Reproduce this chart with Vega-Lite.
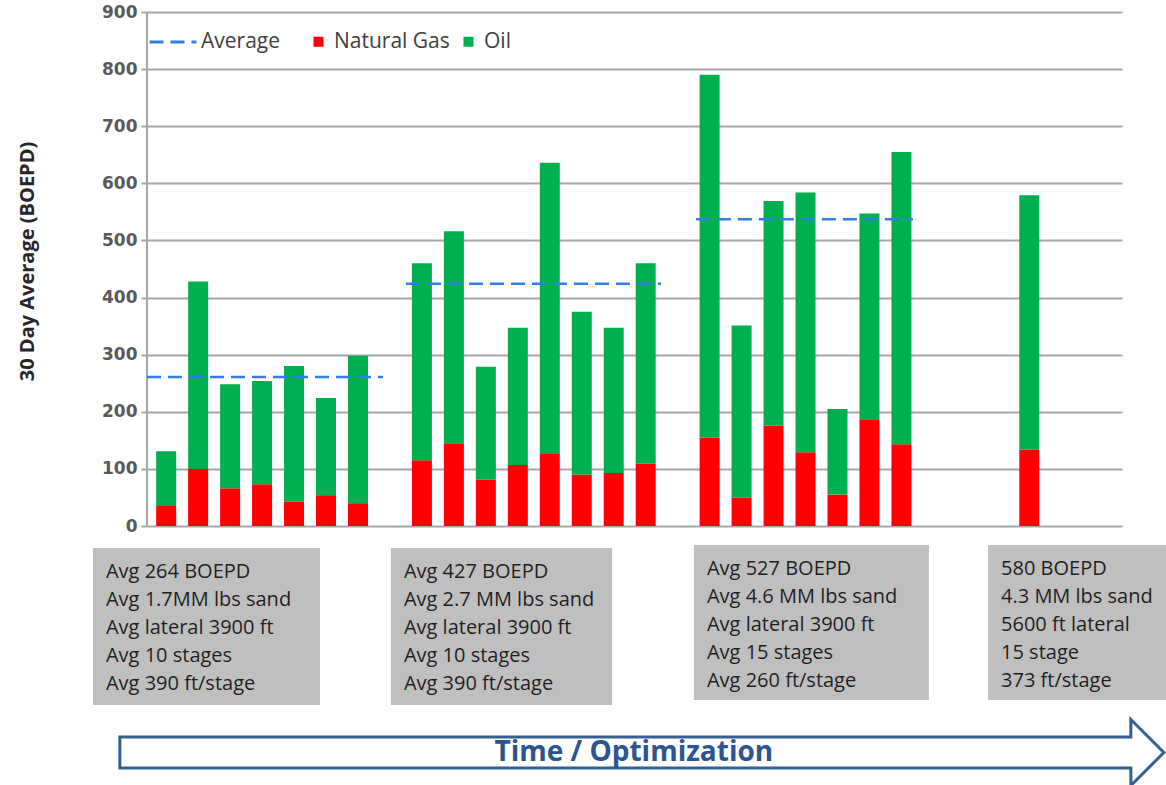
{
  "$schema": "https://vega.github.io/schema/vega-lite/v6.json",
  "width": 975,
  "height": 773,
  "autosize": {"type": "none"},
  "padding": {"left": 147, "top": 12, "right": 44, "bottom": 0},
  "background": "white",
  "config": {"view": {"stroke": null}, "font": "Open Sans"},
  "datasets": {
    "wells": [
      {"well": 1, "Natural Gas": 35, "Oil": 96},
      {"well": 2, "Natural Gas": 100, "Oil": 328},
      {"well": 3, "Natural Gas": 66, "Oil": 182},
      {"well": 4, "Natural Gas": 73, "Oil": 181},
      {"well": 5, "Natural Gas": 43, "Oil": 237},
      {"well": 6, "Natural Gas": 54, "Oil": 170},
      {"well": 7, "Natural Gas": 40, "Oil": 258},
      {"well": 9, "Natural Gas": 115, "Oil": 345},
      {"well": 10, "Natural Gas": 145, "Oil": 371},
      {"well": 11, "Natural Gas": 81, "Oil": 198},
      {"well": 12, "Natural Gas": 107, "Oil": 240},
      {"well": 13, "Natural Gas": 126, "Oil": 510},
      {"well": 14, "Natural Gas": 90, "Oil": 285},
      {"well": 15, "Natural Gas": 93, "Oil": 254},
      {"well": 16, "Natural Gas": 109, "Oil": 351},
      {"well": 18, "Natural Gas": 155, "Oil": 635},
      {"well": 19, "Natural Gas": 50, "Oil": 301},
      {"well": 20, "Natural Gas": 176, "Oil": 393},
      {"well": 21, "Natural Gas": 129, "Oil": 455},
      {"well": 22, "Natural Gas": 55, "Oil": 150},
      {"well": 23, "Natural Gas": 187, "Oil": 360},
      {"well": 24, "Natural Gas": 143, "Oil": 512},
      {"well": 28, "Natural Gas": 134, "Oil": 445}
    ],
    "averages": [
      {"from": 0.4, "to": 7.78, "avg": 261},
      {"from": 8.5, "to": 16.48, "avg": 424},
      {"from": 17.57, "to": 24.36, "avg": 537}
    ],
    "boxes": [
      {"x1": -1.29, "x2": 5.81, "top": -38.5, "bottom": -313.4, "label": "Avg 264 BOEPD\nAvg 1.7MM lbs sand\nAvg lateral 3900 ft\nAvg 10 stages\nAvg 390 ft/stage"},
      {"x1": 8.03, "x2": 14.95, "top": -38.5, "bottom": -313.4, "label": "Avg 427 BOEPD\nAvg 2.7 MM lbs sand\nAvg lateral 3900 ft\nAvg 10 stages\nAvg 390 ft/stage"},
      {"x1": 17.51, "x2": 24.86, "top": -33.3, "bottom": -304.7, "label": "Avg 527 BOEPD\nAvg 4.6 MM lbs sand\nAvg lateral 3900 ft\nAvg 15 stages\nAvg 260 ft/stage"},
      {"x1": 26.71, "x2": 32.5, "top": -33.3, "bottom": -304.7, "label": "580 BOEPD\n4.3 MM lbs sand\n5600 ft lateral\n15 stage\n373 ft/stage"}
    ],
    "arrow": [
      {"x": 15.88, "y": -396.6, "label": "Time / Optimization"}
    ]
  },
  "layer": [
    {
      "data": {"name": "wells"},
      "transform": [{"fold": ["Natural Gas", "Oil"], "as": ["type", "value"]}],
      "mark": {"type": "bar", "size": 20},
      "encoding": {
        "x": {"field": "well", "type": "quantitative", "scale": {"domain": [0.4, 30.9], "nice": false, "zero": false, "padding": 0}, "axis": null},
        "y": {
          "field": "value", "type": "quantitative", "stack": "zero",
          "scale": {"domain": [-453.5, 900], "nice": false, "zero": false},
          "axis": {
            "values": [0, 100, 200, 300, 400, 500, 600, 700, 800, 900],
            "grid": true, "gridColor": "#A6A6A6", "gridWidth": 2,
            "domain": false,
            "tickColor": "#A6A6A6", "tickWidth": 2, "tickSize": 6,
            "labelPadding": 4, "labelFont": "DejaVu Sans", "labelFontSize": 17, "labelFontWeight": "bold", "labelColor": "#595959",
            "title": "30 Day Average (BOEPD)", "titleFont": "Open Sans", "titleFontSize": 20, "titleFontWeight": "bold", "titleColor": "#262626",
            "titleX": -120, "titleY": 249, "titleAngle": -90, "titleAlign": "center", "titleBaseline": "middle"
          }
        },
        "color": {
          "field": "type", "type": "nominal",
          "scale": {"domain": ["Natural Gas", "Oil"], "range": ["#FF0000", "#00B050"]},
          "legend": {
            "orient": "none", "legendX": 161, "legendY": 19, "direction": "horizontal",
            "title": null, "padding": 0, "symbolType": "square", "symbolSize": 100, "symbolStrokeWidth": 0,
            "labelOffset": 5, "columnPadding": 8, "labelFont": "Open Sans", "labelFontSize": 21, "labelColor": "#404040"
          }
        },
        "order": {"field": "type", "sort": "ascending"}
      }
    },
    {
      "data": {"values": [{}]},
      "mark": {"type": "rule", "color": "#A6A6A6", "strokeWidth": 2},
      "encoding": {
        "x": {"datum": 0.4, "type": "quantitative"},
        "y": {"datum": 0, "type": "quantitative"},
        "y2": {"datum": 900}
      }
    },
    {
      "data": {"name": "averages"},
      "mark": {"type": "rule", "color": "#2F7FE8", "strokeWidth": 2.5},
      "encoding": {
        "x": {"field": "from", "type": "quantitative"},
        "x2": {"field": "to"},
        "y": {"field": "avg", "type": "quantitative"},
        "strokeDash": {
          "datum": "Average", "type": "nominal",
          "scale": {"domain": ["Average"], "range": [[14, 7]]},
          "legend": {
            "orient": "none", "legendX": 1, "legendY": 5, "title": null, "padding": 0,
            "symbolType": "stroke", "symbolSize": 2209, "symbolStrokeColor": "#2F7FE8", "symbolStrokeWidth": 3,
            "labelOffset": 3, "labelFont": "Open Sans", "labelFontSize": 21, "labelColor": "#404040"
          }
        }
      }
    },
    {
      "data": {"name": "boxes"},
      "mark": {"type": "rect", "fill": "#BFBFBF"},
      "encoding": {
        "x": {"field": "x1", "type": "quantitative"},
        "x2": {"field": "x2"},
        "y": {"field": "top", "type": "quantitative"},
        "y2": {"field": "bottom"}
      }
    },
    {
      "data": {"name": "boxes"},
      "mark": {"type": "text", "align": "left", "baseline": "top", "dx": 13, "dy": 14, "lineBreak": "\n", "lineHeight": 28, "font": "Open Sans", "fontSize": 20, "color": "#1F1F1F"},
      "encoding": {
        "x": {"field": "x1", "type": "quantitative"},
        "y": {"field": "top", "type": "quantitative"},
        "text": {"field": "label", "type": "nominal"}
      }
    },
    {
      "data": {"name": "arrow"},
      "mark": {"type": "point", "shape": "M-1,-0.0297L0.9368,-0.0297L0.9368,-0.0632L1,0L0.9368,0.0632L0.9368,0.0297L-1,0.0297Z", "size": 1089936, "filled": true, "fill": "white", "stroke": "#33608F", "strokeWidth": 3, "opacity": 1},
      "encoding": {
        "x": {"field": "x", "type": "quantitative"},
        "y": {"field": "y", "type": "quantitative"}
      }
    },
    {
      "data": {"name": "arrow"},
      "mark": {"type": "text", "align": "center", "baseline": "middle", "dx": -8, "font": "Open Sans", "fontSize": 28, "fontWeight": "bold", "color": "#2B5590"},
      "encoding": {
        "x": {"field": "x", "type": "quantitative"},
        "y": {"field": "y", "type": "quantitative"},
        "text": {"field": "label", "type": "nominal"}
      }
    }
  ]
}
